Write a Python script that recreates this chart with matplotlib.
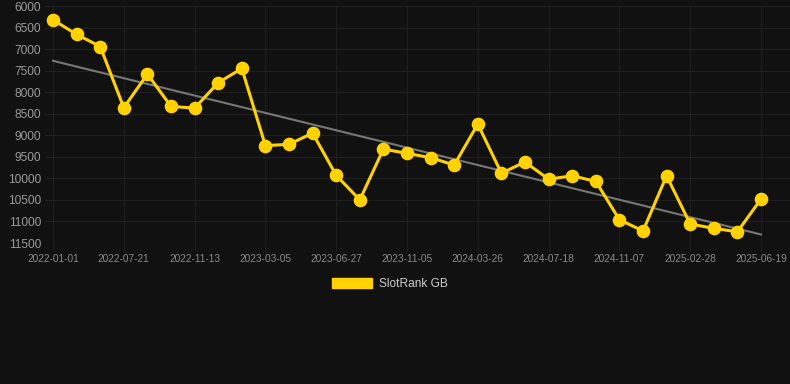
import numpy as np
import matplotlib
matplotlib.use("Agg")
import matplotlib.pyplot as plt
from matplotlib.patches import Patch

plt.rcParams["font.family"] = ["Liberation Sans", "DejaVu Sans"]

# rangering over tid (lavere = bedre, aksen er snudd)
RANK = [6320, 6660, 6940, 8360, 7580, 8330, 8370, 7780, 7450, 9240,
        9210, 8950, 9930, 10500, 9320, 9420, 9520, 9690, 8740, 9880,
        9620, 10020, 9940, 10070, 10960, 11220, 9940, 11060, 11160, 11240,
        10480]
TICK_DATES = ["2022-01-01", "2022-07-21", "2022-11-13", "2023-03-05",
              "2023-06-27", "2023-11-05", "2024-03-26", "2024-07-18",
              "2024-11-07", "2025-02-28", "2025-06-19"]
Y_TICKS = list(range(6000, 11501, 500))
LABEL = "SlotRank GB"

BG = "#111111"
GOLD = "#FFD200"
GRID = "#1f1f1f"

x = np.arange(len(RANK))
coef = np.polyfit(x, RANK, 1)
trend = np.polyval(coef, x)

fig = plt.figure(figsize=(7.9, 3.84), dpi=100, facecolor=BG)
ax = fig.add_axes([45 / 790, 141 / 384, 745 / 790, 237 / 384], facecolor=BG)

ax.plot(x, trend, color="#777777", linewidth=1.5, zorder=2)
ax.plot(x, RANK, "o-", color=GOLD, linewidth=2.2, markersize=8.8, zorder=3)

ax.set_xlim(-8 / 23.6, 30 + 29 / 23.6)
ax.set_ylim(11500, 6000)
ax.set_yticks(Y_TICKS)
ax.set_yticklabels([str(v) for v in Y_TICKS])
ax.set_xticks(x[::3])
ax.set_xticklabels(TICK_DATES)

ax.grid(True, color=GRID, linewidth=0.8)
ax.set_axisbelow(True)
for s in ax.spines.values():
    s.set_visible(False)
ax.tick_params(axis="y", length=0, pad=3, labelsize=8.6, labelcolor="#9a9a9a")
ax.tick_params(axis="x", length=6, color=GRID, pad=2, labelsize=7.3, labelcolor="#8a8a8a")

leg = fig.legend(handles=[Patch(facecolor=GOLD, edgecolor=GOLD, label=LABEL)],
                 loc="center", bbox_to_anchor=(390 / 790, 1 - 284 / 384),
                 frameon=False, fontsize=8.6, handlelength=3.3, handleheight=0.9,
                 handletextpad=0.6)
for t in leg.get_texts():
    t.set_color("#cccccc")

fig.savefig("out.png", dpi=100, facecolor=BG)
